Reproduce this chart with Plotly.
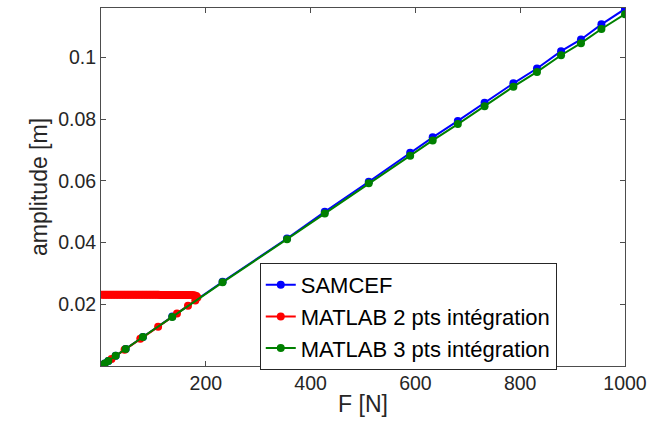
import plotly.graph_objects as go

# SAMCEF
samcef_F = [0, 7, 14, 28, 47, 80, 136, 232, 355, 427, 511, 590, 633, 681, 732, 787, 832, 878, 916, 955, 1000]
samcef_amp = [0, 0.0008, 0.0016, 0.0033, 0.0055, 0.0094, 0.0160, 0.0273, 0.0413, 0.0500, 0.0597, 0.0691,
              0.0741, 0.0794, 0.0853, 0.0916, 0.0964, 0.1020, 0.1058, 0.1107, 0.1157]

# MATLAB 2 pts integration (with fold)
red_F = [0, 20, 45, 75, 109, 145, 166, 180, 184, 182, 178, 174, 170, 167, 164, 161, 158, 155, 152, 149,
         146, 143, 140, 137, 134, 131, 128, 125, 122, 119, 116, 113, 110, 107, 104, 101, 98, 95, 92, 89,
         86, 83, 80, 77, 74, 71, 68, 65, 62, 59, 56, 53, 50, 47, 44, 41, 38, 35, 32, 29, 26, 23, 20, 17,
         14, 11, 8, 5, 2]
red_amp = [0, 0.0023, 0.0053, 0.0088, 0.0127, 0.0170, 0.0195, 0.0212, 0.0222, 0.0227, 0.0229, 0.0230,
           0.0230, 0.0230, 0.0230, 0.0230, 0.0230, 0.0230, 0.0230, 0.0230, 0.0230, 0.0230, 0.0230, 0.0230,
           0.0230, 0.0230, 0.0230, 0.0230, 0.0230, 0.0230, 0.0230, 0.0230, 0.0231, 0.0231, 0.0231, 0.0231,
           0.0231, 0.0231, 0.0231, 0.0231, 0.0231, 0.0231, 0.0231, 0.0231, 0.0231, 0.0231, 0.0231, 0.0231,
           0.0231, 0.0231, 0.0231, 0.0231, 0.0231, 0.0231, 0.0231, 0.0231, 0.0231, 0.0231, 0.0231, 0.0231,
           0.0231, 0.0231, 0.0231, 0.0231, 0.0231, 0.0231, 0.0231, 0.0231, 0.0231]

# MATLAB 3 pts integration
green_F = [0, 7, 14, 28, 47, 80, 136, 232, 355, 427, 511, 590, 633, 681, 732, 787, 832, 878, 916, 955, 1000]
green_amp = [0, 0.0008, 0.0016, 0.0033, 0.0055, 0.0094, 0.0159, 0.0271, 0.0411, 0.0494, 0.0592, 0.0681,
             0.0731, 0.0784, 0.0842, 0.0905, 0.0953, 0.1007, 0.1046, 0.1092, 0.1140]

x_ticks = [200, 400, 600, 800, 1000]
y_ticks = [0.02, 0.04, 0.06, 0.08, 0.1]
y_tick_labels = ["0.02", "0.04", "0.06", "0.08", "0.1"]

FONT = "Liberation Sans, Arial, sans-serif"
TXT = "#262626"

fig = go.Figure()
fig.add_trace(go.Scatter(x=samcef_F, y=samcef_amp, mode="lines+markers", name="SAMCEF",
                         line=dict(color="#0000ff", width=2), marker=dict(color="#0000ff", size=8)))
fig.add_trace(go.Scatter(x=red_F, y=red_amp, mode="lines+markers", name="MATLAB 2 pts intégration",
                         line=dict(color="#ff0000", width=2), marker=dict(color="#ff0000", size=8)))
fig.add_trace(go.Scatter(x=green_F, y=green_amp, mode="lines+markers", name="MATLAB 3 pts intégration",
                         line=dict(color="#008000", width=2), marker=dict(color="#008000", size=8)))

axis_common = dict(showline=True, linecolor="#4d4d4d", linewidth=1, mirror="ticks", ticks="inside",
                   ticklen=5, tickcolor="#4d4d4d", showgrid=False, zeroline=False, automargin=False,
                   ticklabeloverflow="allow",
                   tickfont=dict(family=FONT, size=19.5, color=TXT))

fig.update_layout(
    width=647, height=437,
    margin=dict(l=101, r=22, t=8, b=71, pad=0),
    paper_bgcolor="white", plot_bgcolor="white",
    font=dict(family=FONT, size=19.5, color=TXT),
    xaxis=dict(range=[0, 1000], tickvals=x_ticks, title=dict(text="F [N]", standoff=2,
               font=dict(family=FONT, size=23, color=TXT)), **axis_common),
    yaxis=dict(range=[0, 0.116], tickvals=y_ticks, ticktext=y_tick_labels,
               title=dict(text="amplitude [m]", standoff=4, font=dict(family=FONT, size=23, color=TXT)),
               **axis_common),
    legend=dict(x=0.303, y=0.2877, xanchor="left", yanchor="top", bgcolor="white",
                bordercolor="#262626", borderwidth=1, font=dict(family=FONT, size=22, color="#000000"),
                tracegroupgap=0, itemwidth=30),
    showlegend=True,
)

fig.write_html("out.html", config={"displayModeBar": False},
               post_script="document.body.style.margin='0';document.body.style.overflow='hidden';")
